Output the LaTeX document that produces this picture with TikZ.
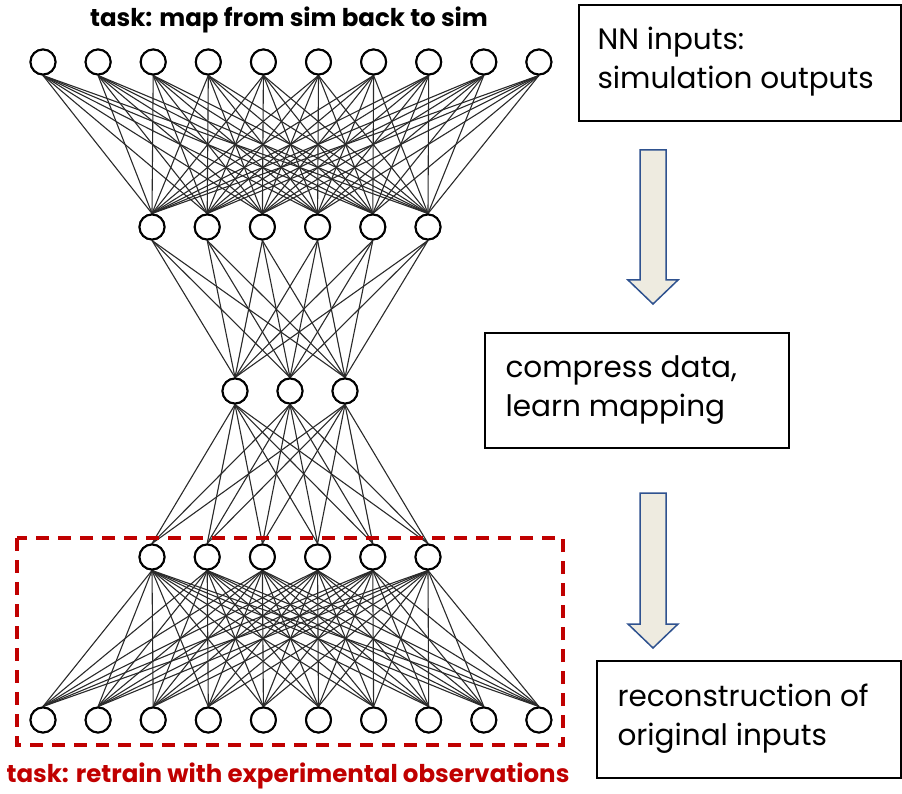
\documentclass[tikz,border=0pt]{standalone}
\usepackage{fontspec}
\setmainfont{Poppins}
\definecolor{taskred}{HTML}{C00000}
\definecolor{arrowfill}{HTML}{EEEBE0}
\definecolor{arrowline}{HTML}{2F528F}
\definecolor{edgegray}{HTML}{2A2A2A}
\begin{document}
\begin{tikzpicture}[x=1pt,y=-1pt,
  neuron/.style={circle,draw=black,line width=2pt,fill=white,minimum size=25pt,inner sep=0pt},
  edge/.style={draw=edgegray,line width=1.1pt},
  boxtext/.style={anchor=west,align=left,font=\fontsize{29.5}{39}\selectfont},
  tasktext/.style={font=\bfseries\fontsize{24.5}{28}\selectfont},
  blockarrow/.style={draw=arrowline,line width=1.5pt,fill=arrowfill,line join=miter}]
\useasboundingbox (0,0) rectangle (902,794);
% layers
\foreach \i in {1,...,10} {
  \node[neuron] (t\i) at ({43+55.1*(\i-1)},62) {};
  \node[neuron] (o\i) at ({43+55.1*(\i-1)},720) {};
}
\foreach \i in {1,...,6} {
  \node[neuron] (a\i) at ({152+55.2*(\i-1)},227) {};
  \node[neuron] (b\i) at ({152+55.2*(\i-1)},557) {};
}
\foreach \i in {1,...,3} {
  \node[neuron] (m\i) at ({235+55*(\i-1)},391) {};
}
% connections (drawn first, nodes redrawn on top)
\begin{scope}
\foreach \i in {1,...,10} \foreach \j in {1,...,6} {
  \draw[edge] (t\i.south) -- (a\j.north);
  \draw[edge] (b\j.south) -- (o\i.north);
}
\foreach \i in {1,...,6} \foreach \j in {1,...,3} {
  \draw[edge] (a\i.south) -- (m\j.north);
  \draw[edge] (m\j.south) -- (b\i.north);
}
\end{scope}
\foreach \i in {1,...,10} {
  \node[neuron] at (t\i) {};
  \node[neuron] at (o\i) {};
}
\foreach \i in {1,...,6} {
  \node[neuron] at (a\i) {};
  \node[neuron] at (b\i) {};
}
\foreach \i in {1,...,3} {
  \node[neuron] at (m\i) {};
}
% titles
\node[tasktext] (title) at (289,20) {task: map from sim back to sim};
\node[tasktext,text=taskred] (retrain) at (288,776) {task: retrain with experimental observations};
% dashed box
\coordinate (dbtl) at (17,538);
\coordinate (dbbr) at (563,745);
\draw[taskred,line width=3.2pt,dash pattern=on 13pt off 9pt] (dbtl) rectangle (dbbr);
% info boxes
\draw[line width=1.5pt] (579,5) rectangle (901,121);
\node[boxtext] (inbox) at (594,62) {NN inputs:\\simulation outputs};
\draw[line width=1.5pt] (485,333) rectangle (789,448);
\node[boxtext] (midbox) at (502,390) {compress data,\\learn mapping};
\draw[line width=1.5pt] (597,661) rectangle (901,778);
\node[boxtext] (outbox) at (614,719) {reconstruction of\\original inputs};
% block arrows
\draw[blockarrow] (640,150) -- (666,150) -- (666,280) -- (678,280) -- (653,304) -- (628,280) -- (640,280) -- cycle;
\draw[blockarrow] (640,493) -- (666,493) -- (666,624) -- (678,624) -- (653,648) -- (628,624) -- (640,624) -- cycle;
\end{tikzpicture}
\end{document}
